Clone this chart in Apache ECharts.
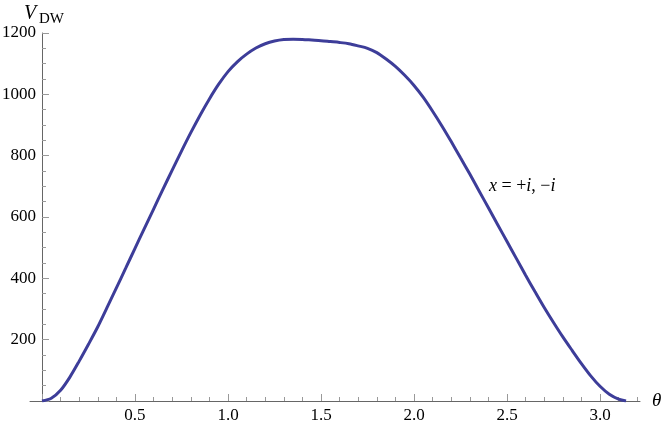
<!DOCTYPE html>
<html>
<head>
<meta charset="utf-8">
<script src="https://cdn.jsdelivr.net/npm/echarts@6/dist/echarts.min.js"></script>
<style>
  html, body { margin: 0; padding: 0; background: #fff; }
  #chart { width: 664px; height: 428px; }
</style>
</head>
<body>
<div id="chart"></div>
<script>
// theta values (x) and V_DW values (y)
var thetaVals = [0, 0.05, 0.1, 0.15, 0.2, 0.25, 0.3, 0.35, 0.4, 0.45, 0.5, 0.55, 0.6, 0.65, 0.7, 0.75, 0.8, 0.85, 0.9, 0.95,
  1.0, 1.05, 1.1, 1.15, 1.2, 1.25, 1.3, 1.35, 1.4, 1.45, 1.5, 1.55, 1.6, 1.65, 1.7, 1.75, 1.8, 1.85, 1.9, 1.95,
  2.0, 2.05, 2.1, 2.15, 2.2, 2.25, 2.3, 2.35, 2.4, 2.45, 2.5, 2.55, 2.6, 2.65, 2.7, 2.75, 2.8, 2.85, 2.9, 2.95,
  3.0, 3.05, 3.1, 3.14];
var vdwVals = [0, 9, 35, 78, 130, 185, 242, 305, 369, 433, 498, 562, 626, 690, 753, 815, 875, 932, 985, 1033,
  1074, 1106, 1131, 1151, 1165, 1174, 1179, 1180, 1179, 1177, 1175, 1172, 1169, 1165, 1158, 1150, 1136, 1115, 1091, 1062,
  1029, 990, 945, 897, 846, 793, 740, 685, 630, 575, 520, 465, 410, 357, 305, 256, 209, 165, 122, 82,
  48, 22, 6, 0];

var xMajorTicks = [0, 0.5, 1.0, 1.5, 2.0, 2.5, 3.0];
var xLabelTicks = [0.5, 1.0, 1.5, 2.0, 2.5, 3.0];
var xMinorTicks = [0.1, 0.2, 0.3, 0.4, 0.6, 0.7, 0.8, 0.9, 1.1, 1.2, 1.3, 1.4, 1.6, 1.7, 1.8, 1.9, 2.1, 2.2, 2.3, 2.4, 2.6, 2.7, 2.8, 2.9, 3.1, 3.2];
var curveLabel = "{i|x} = +{i|i}, \u2212{i|i}";

var points = thetaVals.map(function (t, i) { return [t, vdwVals[i]]; });

var serif = "'Liberation Serif', 'DejaVu Serif', serif";
var myChart = echarts.init(document.getElementById("chart"));
myChart.setOption({
  animation: false,
  grid: { left: 30, right: 24, top: 33, bottom: 27, containLabel: false, outerBoundsMode: "none" },
  xAxis: [
    {
      type: "value",
      min: -0.0645,
      max: 3.215,
      name: "\u03b8",
      nameLocation: "end",
      nameGap: 12,
      nameTextStyle: { fontFamily: serif, fontStyle: "italic", fontSize: 19, color: "#000", verticalAlign: "middle" },
      axisLine: { lineStyle: { color: "#666", width: 1 } },
      axisTick: { inside: true, length: 7, customValues: xMajorTicks, lineStyle: { color: "#999" } },
      axisLabel: {
        customValues: xLabelTicks,
        margin: 6,
        fontFamily: serif,
        fontSize: 17,
        color: "#000",
        formatter: function (v) { return v.toFixed(1); }
      },
      splitLine: { show: false }
    },
    {
      // minor ticks only
      type: "value",
      min: -0.0645,
      max: 3.215,
      position: "bottom",
      axisLine: { show: false },
      axisTick: { inside: true, length: 4, customValues: xMinorTicks, lineStyle: { color: "#999" } },
      axisLabel: { show: false },
      splitLine: { show: false }
    }
  ],
  yAxis: {
    type: "value",
    min: 0,
    max: 1200,
    interval: 200,
    axisLine: { show: true, onZero: true, lineStyle: { color: "#666", width: 1 } },
    axisTick: { show: true, inside: true, length: 7, lineStyle: { color: "#999" } },
    minorTick: { show: true, splitNumber: 4, length: 4, lineStyle: { color: "#999" } },
    axisLabel: {
      margin: -6,
      fontFamily: serif,
      fontSize: 17,
      color: "#000",
      formatter: function (v) { return v === 0 ? "" : String(v); }
    },
    splitLine: { show: false }
  },
  graphic: [
    { type: "text", left: 24, top: 4, style: { text: "V", font: "italic 20px " + serif, fill: "#000" } },
    { type: "text", left: 39, top: 12, style: { text: "DW", font: "15px " + serif, fill: "#000" } },
    {
      type: "text", left: 489, top: 177,
      style: {
        text: curveLabel,
        font: "18px " + serif,
        fill: "#000",
        rich: { i: { fontStyle: "italic", fontFamily: serif, fontSize: 18 } }
      }
    }
  ],
  series: [
    {
      type: "line",
      xAxisIndex: 0,
      data: points,
      smooth: 0.3,
      symbol: "none",
      lineStyle: { color: "#3d3d99", width: 3 }
    }
  ]
});
</script>
</body>
</html>
